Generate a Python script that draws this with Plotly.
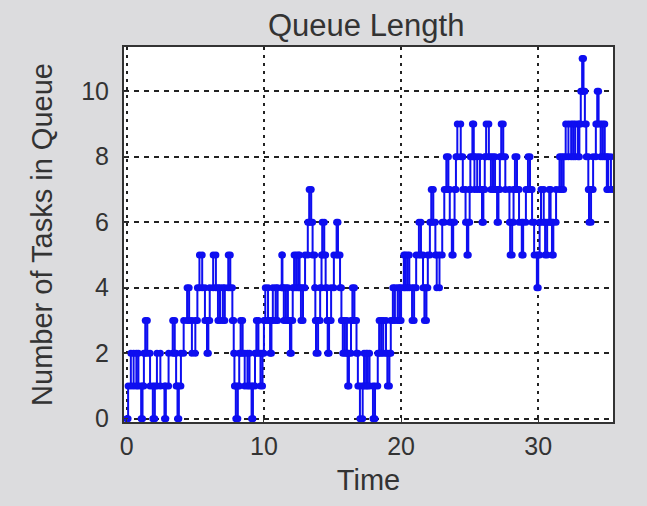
import plotly.graph_objects as go

# Event times and queue length right after each event
event_times = [
    0.00, 0.10, 0.30, 0.50, 0.70, 0.85, 1.05, 1.15, 1.25, 1.35, 1.50, 1.70, 1.90,
    2.05, 2.20, 2.45, 2.75, 2.85, 3.05, 3.35, 3.50, 3.60, 3.70, 3.80, 3.95, 4.15,
    4.40, 4.55, 4.75, 5.00, 5.15, 5.30, 5.50, 5.70, 5.85, 5.95, 6.05, 6.30, 6.50,
    6.65, 6.80, 7.00, 7.15, 7.40, 7.55, 7.70, 7.80, 7.85, 7.95, 8.10, 8.20, 8.30,
    8.45, 8.60, 8.80, 8.95, 9.10, 9.20, 9.35, 9.45, 9.60, 9.75, 9.90, 10.00, 10.10,
    10.30, 10.45, 10.55, 10.65, 10.85, 11.00, 11.30, 11.35, 11.45, 11.60, 11.75,
    11.90, 12.00, 12.10, 12.20, 12.35, 12.50, 12.60, 12.70, 12.85, 13.00, 13.20,
    13.30, 13.45, 13.55, 13.70, 13.75, 13.80, 13.95, 14.10, 14.20, 14.25, 14.40,
    14.50, 14.60, 14.65, 14.75, 14.90, 15.10, 15.30, 15.40, 15.55, 15.65, 15.75,
    15.90, 16.05, 16.10, 16.20, 16.35, 16.45, 16.60, 16.75, 16.85, 17.00, 17.20,
    17.30, 17.45, 17.55, 17.70, 17.95, 18.10, 18.30, 18.40, 18.55, 18.70, 18.90,
    19.00, 19.15, 19.25, 19.40, 19.55, 19.75, 19.90, 20.00, 20.20, 20.30, 20.45,
    20.60, 20.80, 20.95, 21.10, 21.30, 21.45, 21.60, 21.70, 21.85, 21.95, 22.10,
    22.20, 22.35, 22.50, 22.60, 22.80, 23.00, 23.15, 23.30, 23.45, 23.55, 23.70,
    23.80, 23.90, 24.00, 24.10, 24.35, 24.50, 24.70, 24.80, 24.90, 25.00, 25.05,
    25.20, 25.30, 25.35, 25.55, 25.75, 25.90, 26.00, 26.10, 26.20, 26.40, 26.55,
    26.70, 26.85, 27.00, 27.10, 27.20, 27.30, 27.45, 27.60, 27.90, 27.95, 28.10,
    28.20, 28.30, 28.45, 28.60, 28.80, 28.90, 29.10, 29.25, 29.40, 29.55, 29.70,
    29.90, 30.00, 30.10, 30.20, 30.40, 30.50, 30.65, 30.80, 30.90, 31.00, 31.10,
    31.30, 31.55, 31.70, 31.85, 32.00, 32.20, 32.40, 32.55, 32.70, 32.90, 33.00,
    33.10, 33.20, 33.30, 33.40, 33.50, 33.65, 33.70, 33.85, 34.00, 34.20, 34.30,
    34.40, 34.55, 34.70, 34.85, 35.00, 35.10, 35.30,
]
queue_lengths = [
    0, 1, 2, 1, 2, 1, 0, 1, 2, 3, 2, 1, 0,
    1, 2, 1, 0, 1, 2, 3, 2, 1, 0, 1, 2, 3,
    4, 3, 2, 3, 4, 5, 4, 3, 2, 3, 4, 5, 4,
    3, 4, 3, 4, 5, 4, 3, 2, 1, 0, 1, 2, 3,
    2, 1, 2, 1, 0, 1, 2, 3, 2, 1, 2, 3, 4,
    3, 2, 3, 4, 3, 4, 5, 4, 3, 4, 3,
    2, 3, 4, 5, 4, 5, 4, 3, 4, 5, 6,
    7, 6, 5, 4, 3, 2, 3, 4, 5, 6, 5,
    4, 3, 2, 3, 4, 5, 6, 5, 4, 3, 2,
    3, 2, 1, 2, 3, 4, 3, 2, 1, 0, 1,
    2, 1, 2, 1, 0, 1, 2, 3, 2, 3, 2,
    1, 2, 3, 4, 3, 4, 3, 4, 5, 4, 5,
    4, 3, 4, 5, 6, 5, 4, 3, 4, 5, 6,
    7, 6, 5, 4, 5, 6, 7, 8, 7, 6, 5,
    6, 7, 8, 9, 8, 7, 6, 5, 6, 7, 8,
    9, 8, 7, 8, 7, 6, 7, 8, 9, 8, 7,
    8, 7, 6, 7, 8, 9, 8, 7, 6, 5, 6,
    7, 8, 7, 6, 5, 6, 7, 8, 7, 6, 5,
    4, 5, 6, 7, 6, 5, 6, 7, 6, 5, 6,
    7, 8, 7, 8, 9, 8, 9, 8, 9, 8, 9,
    10, 11, 10, 9, 8, 7, 6, 7, 8, 9, 10,
    9, 8, 9, 8, 7, 8, 7,
]
end_time = 35.5

x_ticks = [0, 10, 20, 30]
y_ticks = [0, 2, 4, 6, 8, 10]

# Build the plotted path: at each event a vertical jump from old to new value
px, py = [event_times[0]], [queue_lengths[0]]
for i in range(1, len(event_times)):
    px += [event_times[i], event_times[i]]
    py += [queue_lengths[i - 1], queue_lengths[i]]
px.append(end_time)
py.append(queue_lengths[-1])

blue = "rgb(14,14,240)"
fig = go.Figure(go.Scatter(
    x=px, y=py, mode="lines+markers",
    line=dict(color=blue, width=2),
    marker=dict(color=blue, size=7),
    showlegend=False, cliponaxis=True,
))

ffam = "Liberation Sans, Arial, sans-serif"
tick_font = dict(family=ffam, size=25, color="#333333")
label_font = dict(family=ffam, size=29, color="#333333")
fig.update_layout(
    width=647, height=506,
    paper_bgcolor="#dcdcde", plot_bgcolor="white",
    margin=dict(l=124, r=34, t=47, b=84),
    font=tick_font,
    title=dict(text="Queue Length", x=0.566, xanchor="center", y=0.972, yanchor="top",
               font=dict(family=ffam, size=31, color="#333333")),
)
fig.update_xaxes(
    range=[-0.2, 35.45], tickvals=x_ticks, ticktext=[str(v) for v in x_ticks],
    showgrid=True, gridcolor="#222222", griddash="3px,5px", gridwidth=1.6,
    showline=True, linecolor="#333333", linewidth=2, mirror=True,
    ticks="inside", ticklen=4, tickcolor="#333333", zeroline=False,
    ticklabelstandoff=1,
    title=dict(text="Time", standoff=11, font=label_font), tickfont=tick_font,
)
fig.update_yaxes(
    range=[-0.1, 11.35], tickvals=y_ticks, ticktext=[str(v) for v in y_ticks],
    showgrid=True, gridcolor="#222222", griddash="5px,5px", gridwidth=1.6,
    showline=True, linecolor="#333333", linewidth=2, mirror=True,
    ticks="inside", ticklen=4, tickcolor="#333333", zeroline=False,
    ticklabelstandoff=8,
    title=dict(text="Number of Tasks in Queue", standoff=20, font=label_font), tickfont=tick_font,
)

fig.write_html(
    "out.html",
    config={"displayModeBar": False},
    post_script="document.body.style.margin='0';document.body.style.background='#dcdcde';",
)
